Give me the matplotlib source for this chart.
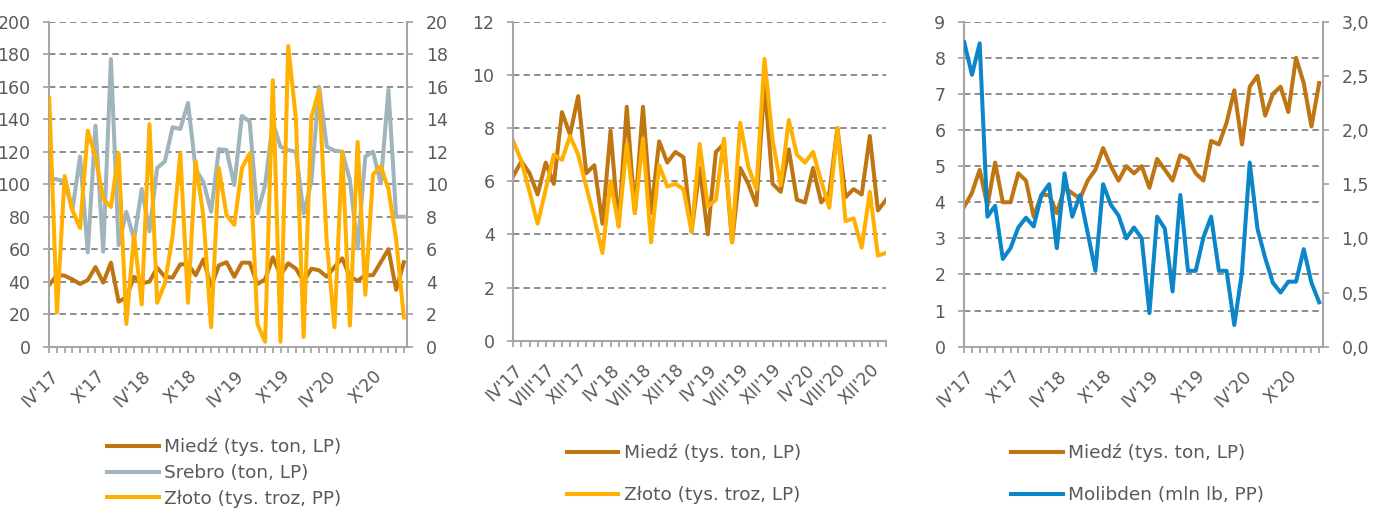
import matplotlib
matplotlib.use("Agg")
import matplotlib.pyplot as plt
import matplotlib.ticker as mticker

plt.rcParams["font.family"] = ["DejaVu Sans"]
plt.rcParams["lines.scale_dashes"] = False

# dane miesięczne IV'17 - II'21
miedz_1 = [38, 44, 43.7, 41.4, 38.6, 41, 49, 39.4, 51.7, 27.7, 30.4, 43, 39, 40, 48.6, 43,
           42.5, 50.7, 50.7, 44, 53.7, 37, 50, 52, 43, 51.7, 51.7, 38.6, 41.4, 55, 44, 51.3,
           48, 40, 48, 47, 43, 49, 54.4, 43, 40.6, 44, 44, 52, 60, 35, 52]
srebro = [103.6, 103, 101.5, 84, 117, 58, 136, 58.5, 177, 62.5, 83, 66, 97, 71, 110, 114,
          135, 134, 150, 109, 101.5, 83, 121.5, 121, 99.5, 142, 138.5, 82, 99.5, 138, 123, 121,
          120, 82, 101.5, 160, 123, 120.6, 120, 102.6, 60.5, 117, 120, 100.5, 158, 80, 80]
zloto_1 = [15.3, 2.1, 10.5, 8.4, 7.3, 13.3, 11.7, 9.1, 8.6, 11.9, 1.4, 6.9, 2.6, 13.7, 2.7, 3.9,
           6.8, 11.9, 2.7, 11.4, 8.0, 1.2, 11.0, 8.1, 7.5, 11.0, 11.9, 1.4, 0.3, 16.4, 0.3, 18.5,
           14.0, 0.6, 14.1, 15.8, 6.4, 1.2, 12.0, 1.3, 12.6, 3.2, 10.6, 11.1, 9.7, 6.6, 1.8]

miedz_2 = [6.2, 6.75, 6.3, 5.5, 6.7, 5.9, 8.6, 7.75, 9.2, 6.3, 6.6, 4.4, 7.9, 4.3, 8.8, 4.8,
           8.8, 4.8, 7.5, 6.7, 7.1, 6.9, 4.1, 6.5, 4.0, 7.1, 7.4, 3.7, 6.5, 5.9, 5.1, 9.7,
           5.9, 5.6, 7.2, 5.3, 5.2, 6.5, 5.2, 5.55, 8.0, 5.4, 5.7, 5.5, 7.7, 4.9, 5.3]
zloto_2 = [7.5, 6.75, 5.6, 4.4, 5.7, 7.0, 6.8, 7.7, 7.0, 5.8, 4.6, 3.3, 6.0, 4.3, 7.4, 4.8,
           7.6, 3.7, 6.6, 5.8, 5.9, 5.7, 4.1, 7.4, 5.05, 5.3, 7.6, 3.7, 8.2, 6.55, 5.7, 10.6,
           7.55, 5.85, 8.3, 7.0, 6.7, 7.1, 6.0, 5.0, 8.0, 4.5, 4.6, 3.5, 5.6, 3.2, 3.3]

miedz_3 = [3.88, 4.26, 4.9, 3.9, 5.1, 4.0, 4.0, 4.8, 4.6, 3.6, 4.2, 4.2, 3.7, 4.4, 4.25, 4.1,
           4.6, 4.9, 5.5, 5.0, 4.6, 5.0, 4.8, 5.0, 4.4, 5.2, 4.9, 4.6, 5.3, 5.2, 4.8, 4.6,
           5.7, 5.6, 6.2, 7.1, 5.6, 7.2, 7.5, 6.4, 7.0, 7.2, 6.5, 8.0, 7.3, 6.1, 7.3]
molibden = [2.81, 2.51, 2.80, 1.20, 1.30, 0.81, 0.91, 1.10, 1.19, 1.11, 1.40, 1.50, 0.91, 1.60,
            1.20, 1.40, 1.05, 0.70, 1.50, 1.31, 1.21, 1.00, 1.10, 1.00, 0.31, 1.20, 1.09, 0.51,
            1.40, 0.70, 0.70, 1.01, 1.20, 0.70, 0.70, 0.20, 0.69, 1.70, 1.09, 0.82, 0.59, 0.50,
            0.60, 0.60, 0.90, 0.59, 0.41]

labels_6m = ["IV'17", "X'17", "IV'18", "X'18", "IV'19", "X'19", "IV'20", "X'20"]
labels_4m = ["IV'17", "VIII'17", "XII'17", "IV'18", "VIII'18", "XII'18",
             "IV'19", "VIII'19", "XII'19", "IV'20", "VIII'20", "XII'20"]

C_MIEDZ = "#BE7512"
C_SREBRO = "#9FB4BB"
C_ZLOTO = "#FFB000"
C_MOLIBDEN = "#0B86C8"
C_TEXT = "#595959"
C_AXIS = "#A6A6A6"
C_GRID = "#8C8C8C"
FS = 12.5
LW = 2.9

n = len(miedz_1)
x = list(range(n))

fig = plt.figure(figsize=(13.87, 5.12), dpi=100)


def style_axes(ax, xmax, step, labels):
    ax.set_xlim(0, xmax)
    ax.set_xticks(x)
    ticklabels = ["" for _ in x]
    for k, lab in enumerate(labels):
        ticklabels[k * step] = lab
    ax.set_xticklabels(ticklabels, rotation=45, ha="right", va="top",
                       rotation_mode="anchor", fontsize=FS, color=C_TEXT)
    ax.tick_params(axis="x", length=4.5, width=1.3, color=C_AXIS, pad=10)
    ax.tick_params(axis="y", length=4.5, width=1.3, color=C_AXIS, pad=9,
                   labelsize=FS, labelcolor=C_TEXT)
    for side in ["top", "right"]:
        ax.spines[side].set_visible(False)
    for side in ["left", "bottom"]:
        ax.spines[side].set_color(C_AXIS)
        ax.spines[side].set_linewidth(1.5)
    ax.grid(axis="y", color=C_GRID, lw=1.4, linestyle=(0, (4.6, 3.0)))
    ax.set_axisbelow(True)


def style_twin(ax2):
    for side in ["top", "left", "bottom"]:
        ax2.spines[side].set_visible(False)
    ax2.spines["right"].set_color(C_AXIS)
    ax2.spines["right"].set_linewidth(1.5)
    ax2.tick_params(axis="y", length=4.5, width=1.3, color=C_AXIS, pad=9,
                    labelsize=FS, labelcolor=C_TEXT)


def add_legend(ax, handles, x0, y0, spacing):
    ax.legend(handles=handles, loc="upper left", bbox_to_anchor=(x0, y0),
              bbox_transform=fig.transFigure, frameon=False, fontsize=13.3,
              labelcolor=C_TEXT, handlelength=2.8, handletextpad=0.3,
              borderpad=0, borderaxespad=0, labelspacing=spacing)


# --- panel 1: miedź, srebro, złoto ---
ax1 = fig.add_axes([0.0355, 0.3229, 0.2579, 0.6347])
l1, = ax1.plot(x, miedz_1, color=C_MIEDZ, lw=LW, label="Miedź (tys. ton, LP)")
l2, = ax1.plot(x, srebro, color=C_SREBRO, lw=LW, label="Srebro (ton, LP)")
ax1.set_ylim(0, 200)
ax1.set_yticks(range(0, 201, 20))
style_axes(ax1, 46.4, 6, labels_6m)
ax1b = ax1.twinx()
l3, = ax1b.plot(x, zloto_1, color=C_ZLOTO, lw=LW, label="Złoto (tys. troz, PP)")
ax1b.set_ylim(0, 20)
ax1b.set_yticks(range(0, 21, 2))
style_twin(ax1b)
add_legend(ax1b, [l1, l2, l3], 0.077, 0.145, 0.42)

# --- panel 2: miedź, złoto ---
ax2 = fig.add_axes([0.3701, 0.3346, 0.2687, 0.6230])
m1, = ax2.plot(x, miedz_2, color=C_MIEDZ, lw=LW, label="Miedź (tys. ton, LP)")
m2, = ax2.plot(x, zloto_2, color=C_ZLOTO, lw=LW, label="Złoto (tys. troz, LP)")
ax2.set_ylim(0, 12)
ax2.set_yticks(range(0, 13, 2))
style_axes(ax2, 46, 4, labels_4m)
add_legend(ax2, [m1, m2], 0.4085, 0.133, 1.3)

# --- panel 3: miedź, molibden ---
ax3 = fig.add_axes([0.6952, 0.3229, 0.2584, 0.6347])
r1, = ax3.plot(x, miedz_3, color=C_MIEDZ, lw=LW, label="Miedź (tys. ton, LP)")
ax3.set_ylim(0, 9)
ax3.set_yticks(range(0, 10))
style_axes(ax3, 46.45, 6, labels_6m)
ax3b = ax3.twinx()
r2, = ax3b.plot(x, molibden, color=C_MOLIBDEN, lw=LW, label="Molibden (mln lb, PP)")
ax3b.set_ylim(0, 3)
ax3b.set_yticks([0, 0.5, 1, 1.5, 2, 2.5, 3])
ax3b.yaxis.set_major_formatter(
    mticker.FuncFormatter(lambda v, _: "{:.1f}".format(v).replace(".", ",")))
style_twin(ax3b)
add_legend(ax3b, [r1, r2], 0.729, 0.133, 1.3)

fig.savefig("out.png", dpi=100)
